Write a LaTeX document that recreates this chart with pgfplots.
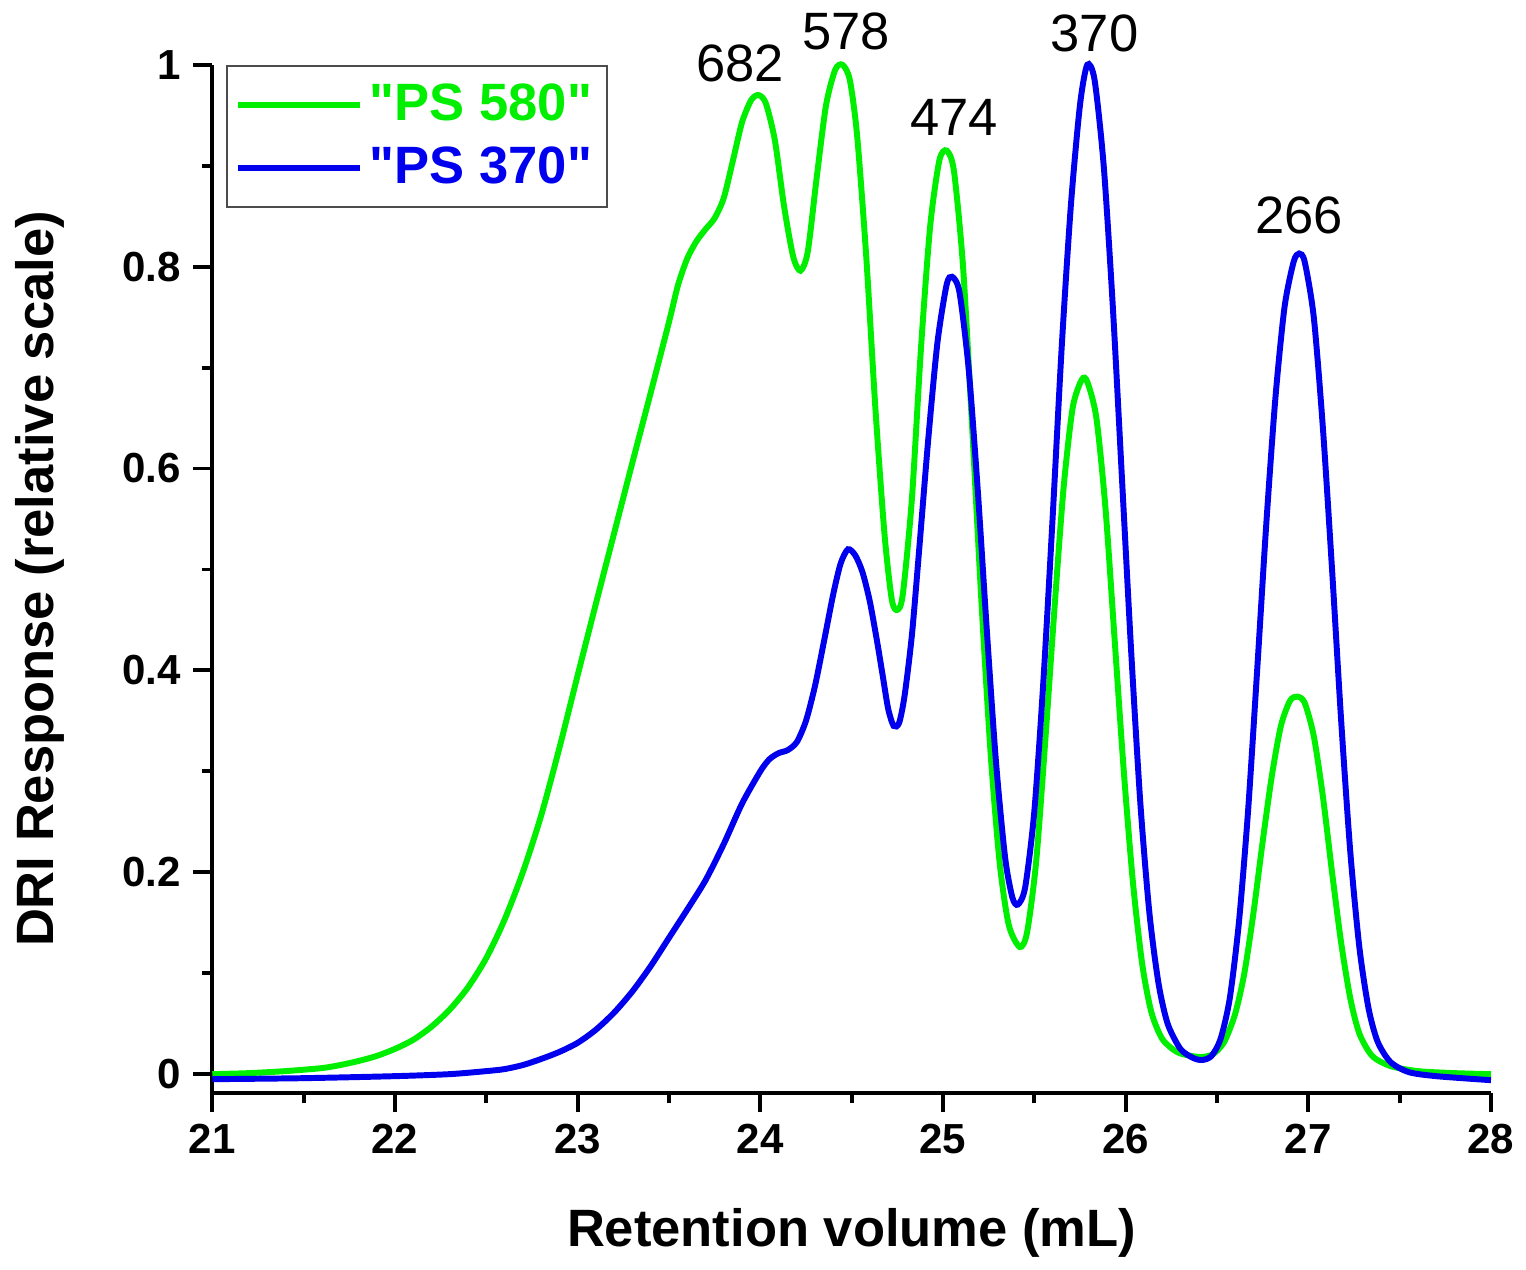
\documentclass[border=0pt]{standalone}
\usepackage{fontspec}
\setmainfont{Liberation Sans}[Ligatures=TeXOff]
\usepackage{pgfplots}
\pgfplotsset{compat=1.18}
\definecolor{cgreen}{RGB}{0,238,0}
\definecolor{cblue}{RGB}{0,0,238}
\begin{document}
\begin{tikzpicture}
\begin{axis}[
  scale only axis,
  width=128.3mm, height=103.2mm,
  xmin=21, xmax=28, ymin=-0.019, ymax=1.0,
  axis x line=bottom, axis y line=left,
  axis line style={-, line width=1.1pt},
  every tick/.style={black, line width=1.1pt},
  tick align=outside,
  major tick length=1.9mm, minor tick length=1.0mm,
  xtick={21,22,23,24,25,26,27,28},
  ytick={0,0.2,0.4,0.6,0.8,1},
  minor x tick num=1, minor y tick num=1,
  /pgf/number format/assume math mode=true,
  ticklabel style={font=\bfseries\fontsize{12}{14}\selectfont},
  xlabel={Retention volume (mL)},
  ylabel={DRI Response (relative scale)},
  label style={font=\bfseries\fontsize{15}{18}\selectfont},
  xlabel style={at={(axis description cs:0.5,-0.1357)}, anchor=center},
  ylabel style={at={(axis description cs:-0.135,0.5)}, anchor=center},
  clip=false,
  legend cell align=left,
  legend image code/.code={\draw[#1] (0mm,0mm) -- (12.2mm,0mm);},
  legend style={at={(rel axis cs:0.011,1)}, anchor=north west,
    draw=black!70, line width=0.6pt, fill=white,
    font=\bfseries\fontsize{15}{18}\selectfont,
    row sep=0.7mm, inner xsep=0.8mm, inner ysep=1.1mm},
]
\addplot[cgreen, line width=1.7pt, smooth, tension=0.45] coordinates {
(21.0,0.000) (21.2,0.001) (21.4,0.003) (21.6,0.006) (21.7,0.009) (21.8,0.013)
(21.9,0.018) (22.0,0.025) (22.1,0.034) (22.2,0.047) (22.3,0.064) (22.4,0.086)
(22.5,0.115) (22.6,0.153) (22.7,0.200) (22.8,0.256) (22.9,0.323) (23.0,0.395)
(23.1,0.466) (23.2,0.536) (23.3,0.606) (23.4,0.675) (23.5,0.745) (23.55,0.782)
(23.6,0.808) (23.65,0.825) (23.7,0.837) (23.75,0.848) (23.8,0.868) (23.85,0.905)
(23.9,0.943) (23.95,0.965) (23.99,0.970) (24.03,0.962) (24.08,0.925) (24.13,0.860)
(24.18,0.810) (24.22,0.796) (24.26,0.815) (24.31,0.890) (24.36,0.960) (24.41,0.995)
(24.45,1.000) (24.49,0.985) (24.53,0.930) (24.58,0.810) (24.63,0.660) (24.68,0.535)
(24.72,0.470) (24.75,0.460) (24.78,0.475) (24.83,0.570) (24.88,0.720) (24.93,0.840)
(24.98,0.905) (25.02,0.915) (25.06,0.895) (25.11,0.800) (25.16,0.640) (25.21,0.470)
(25.26,0.320) (25.31,0.210) (25.36,0.148) (25.42,0.126) (25.46,0.140) (25.51,0.210)
(25.56,0.330) (25.61,0.460) (25.66,0.580) (25.71,0.660) (25.76,0.688) (25.79,0.686)
(25.84,0.650) (25.89,0.560) (25.94,0.430) (25.99,0.300) (26.04,0.190) (26.09,0.110)
(26.14,0.062) (26.2,0.035) (26.28,0.022) (26.36,0.018) (26.42,0.017) (26.48,0.020)
(26.54,0.032) (26.6,0.060) (26.65,0.100) (26.7,0.160) (26.75,0.230) (26.8,0.295)
(26.85,0.345) (26.9,0.370) (26.94,0.374) (26.98,0.368) (27.03,0.335) (27.08,0.275)
(27.13,0.200) (27.18,0.130) (27.23,0.075) (27.28,0.040) (27.35,0.018) (27.45,0.008)
(27.6,0.003) (27.8,0.001) (28.0,0.000)
};
\addlegendentry{\textcolor{cgreen}{"PS 580"}}
\addplot[cblue, line width=1.7pt, smooth, tension=0.45] coordinates {
(21.0,-0.005) (21.5,-0.004) (22.0,-0.002) (22.3,0.000) (22.5,0.003) (22.6,0.005)
(22.7,0.009) (22.8,0.015) (22.9,0.022) (23.0,0.031) (23.1,0.044) (23.2,0.061)
(23.3,0.082) (23.4,0.107) (23.5,0.135) (23.6,0.163) (23.7,0.192) (23.8,0.228)
(23.9,0.268) (24.0,0.300) (24.05,0.312) (24.1,0.318) (24.15,0.321) (24.2,0.329)
(24.25,0.350) (24.3,0.385) (24.35,0.430) (24.4,0.476) (24.44,0.506) (24.48,0.520)
(24.52,0.514) (24.56,0.497) (24.6,0.468) (24.64,0.428) (24.67,0.395) (24.7,0.362)
(24.73,0.345) (24.76,0.348) (24.79,0.375) (24.83,0.435) (24.87,0.520) (24.92,0.630)
(24.97,0.725) (25.02,0.782) (25.05,0.790) (25.09,0.775) (25.14,0.700) (25.19,0.580)
(25.24,0.440) (25.29,0.310) (25.34,0.215) (25.38,0.175) (25.41,0.168) (25.45,0.185)
(25.5,0.260) (25.55,0.390) (25.6,0.550) (25.65,0.720) (25.7,0.860) (25.75,0.960)
(25.79,1.000) (25.83,0.985) (25.88,0.900) (25.93,0.760) (25.98,0.590) (26.03,0.420)
(26.08,0.270) (26.13,0.160) (26.18,0.090) (26.23,0.050) (26.3,0.025) (26.37,0.016)
(26.42,0.014) (26.47,0.018) (26.52,0.035) (26.57,0.075) (26.62,0.150) (26.67,0.260)
(26.72,0.400) (26.77,0.545) (26.82,0.670) (26.87,0.760) (26.92,0.805) (26.95,0.813)
(26.98,0.805) (27.03,0.750) (27.08,0.640) (27.13,0.500) (27.18,0.350) (27.23,0.220)
(27.28,0.125) (27.33,0.065) (27.38,0.032) (27.45,0.012) (27.55,0.002) (27.7,-0.002)
(28.0,-0.006)
};
\addlegendentry{\textcolor{cblue}{"PS 370"}}
\node[font=\fontsize{15}{18}\selectfont] at (axis cs:23.89,1.001) {682};
\node[font=\fontsize{15}{18}\selectfont] at (axis cs:24.47,1.033) {578};
\node[font=\fontsize{15}{18}\selectfont] at (axis cs:25.06,0.948) {474};
\node[font=\fontsize{15}{18}\selectfont] at (axis cs:25.83,1.031) {370};
\node[font=\fontsize{15}{18}\selectfont] at (axis cs:26.95,0.851) {266};
\path (rel axis cs:0,0) ++(-21.3mm,-16.6mm) rectangle ++(152.6mm,126.3mm);
\end{axis}
\end{tikzpicture}
\end{document}
